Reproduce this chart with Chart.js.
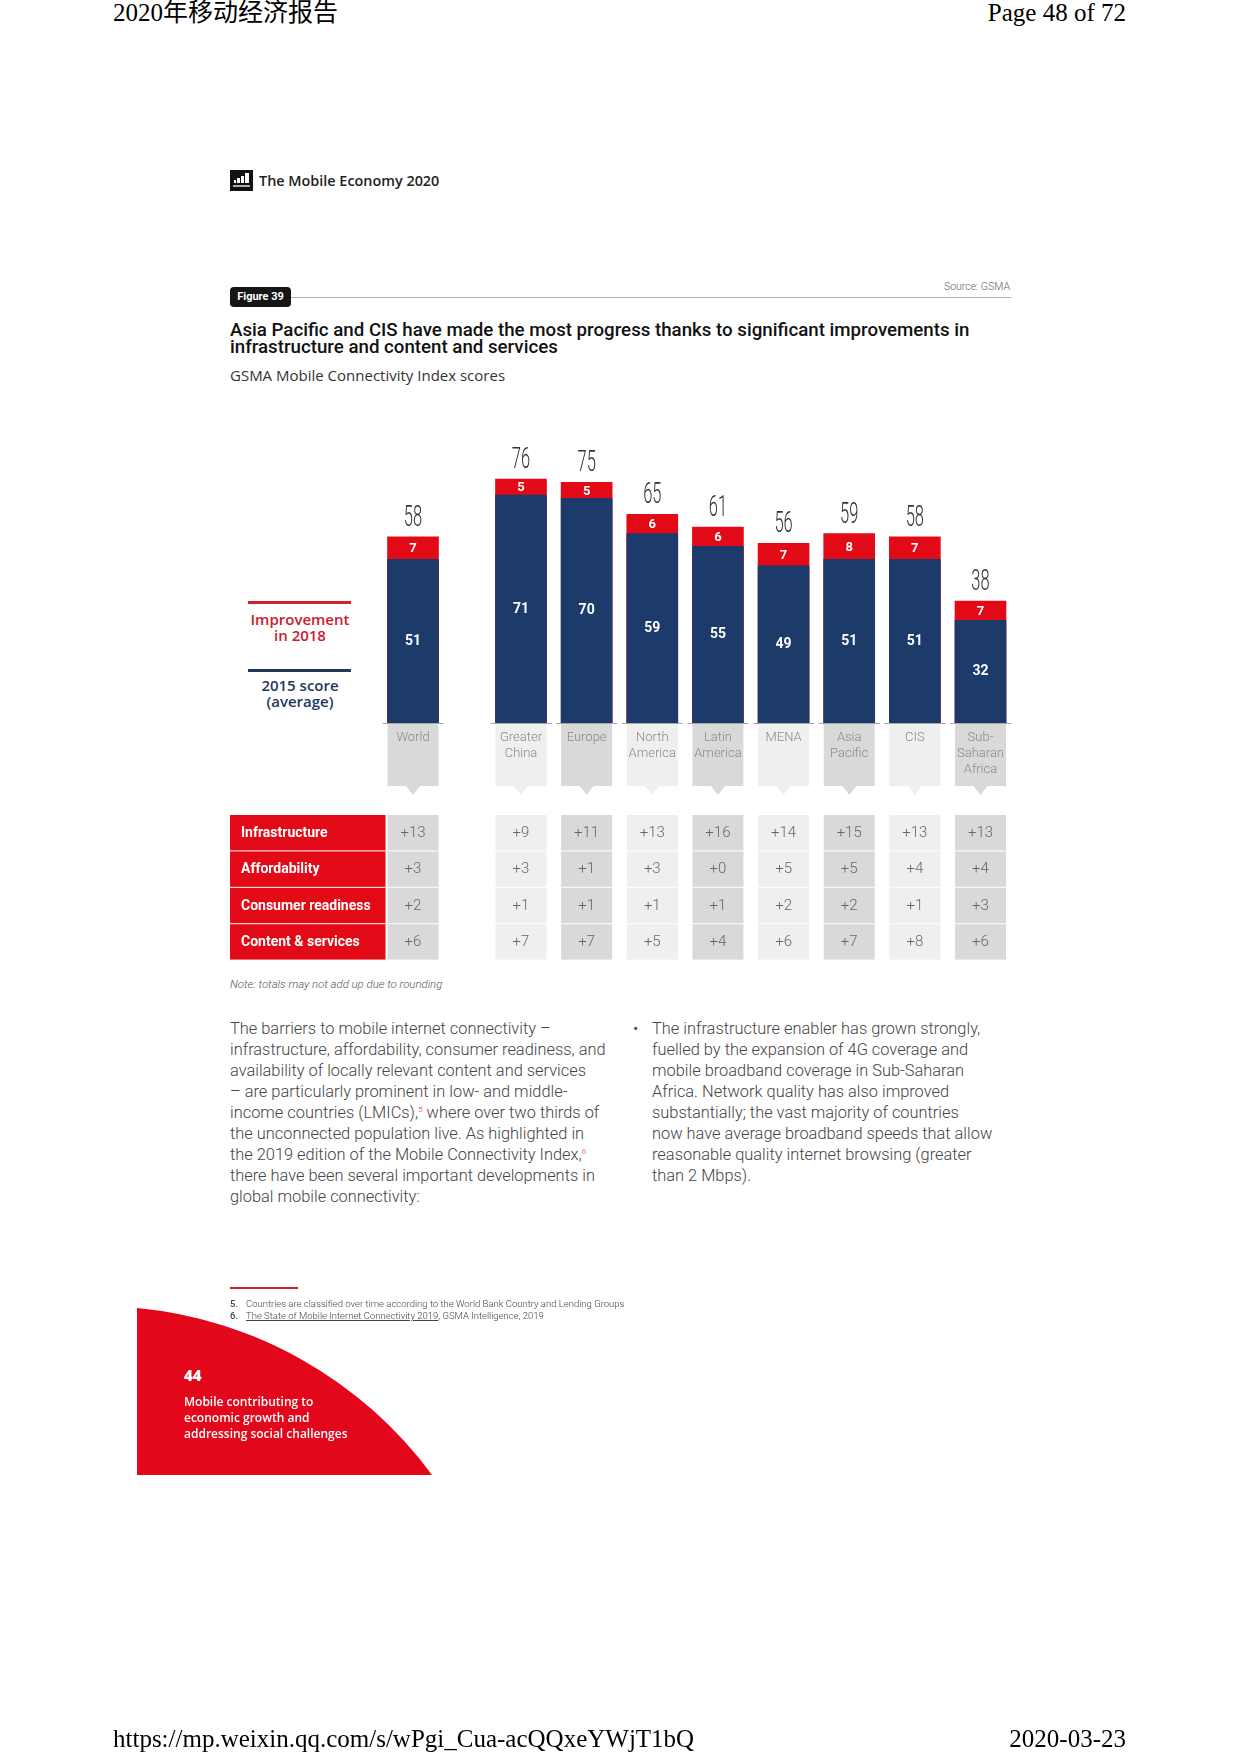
<!DOCTYPE html>
<html>
<head>
<meta charset="utf-8">
<script src="https://cdn.jsdelivr.net/npm/chart.js@4.4.1/dist/chart.umd.min.js"></script>
<style>
body{margin:0;width:1240px;height:1754px;position:relative;background:#fff;overflow:hidden;font-family:Roboto,sans-serif}
.abs{position:absolute;white-space:nowrap}
.serif{font-family:"Liberation Serif","Noto Sans CJK SC",serif;font-size:25px;line-height:26px;color:#000}
.body{font-family:Roboto,sans-serif;font-weight:300;font-size:16.4px;line-height:21px;color:#444}
.body sup{color:#d0202f;font-size:8px;vertical-align:6px;line-height:0}
.legend{font-family:"Open Sans",sans-serif;font-weight:600;font-size:15px;line-height:16px;text-align:center;width:120px}
.foot{font-weight:300;font-size:9.5px;line-height:12px;color:#444}
#chart{position:absolute;left:0;top:400px}
</style>
</head>
<body>
<div class="abs serif" style="left:113px;top:0px">2020年移动经济报告</div>
<div class="abs serif" style="right:114px;top:0px">Page 48 of 72</div>

<svg class="abs" style="left:230px;top:170px" width="23" height="21">
  <rect width="23" height="21" fill="#111"/>
  <rect x="4" y="10" width="2" height="3" fill="#fff"/>
  <rect x="7" y="8" width="3" height="5" fill="#fff"/>
  <rect x="11" y="6" width="3" height="7" fill="#fff"/>
  <rect x="15" y="3" width="4" height="10" fill="#fff"/>
  <rect x="3" y="15" width="17" height="2" fill="#aaa"/>
</svg>
<div class="abs" style="left:259px;top:171px;font-family:'Open Sans',sans-serif;font-weight:600;font-size:14.4px;line-height:19px;color:#222">The Mobile Economy 2020</div>

<div class="abs" style="right:230px;top:281px;font-weight:300;font-size:10.5px;line-height:12px;color:#666">Source: GSMA</div>
<div class="abs" style="left:291px;top:297px;width:720px;height:1px;background:#b0b0b0"></div>
<div class="abs" style="left:230px;top:287px;width:61px;height:20px;border-radius:4px;background:#151515;color:#fff;font-weight:700;font-size:11px;line-height:20px;text-align:center">Figure 39</div>

<div class="abs" style="left:230px;top:322px;font-weight:500;font-size:18.7px;line-height:17px;color:#111">Asia Pacific and CIS have made the most progress thanks to significant improvements in<br>infrastructure and content and services</div>
<div class="abs" style="left:230px;top:365px;font-family:'Open Sans',sans-serif;font-size:15px;line-height:20px;color:#333">GSMA Mobile Connectivity Index scores</div>

<div class="abs" style="left:248px;top:601px;width:103px;height:3px;background:#cf2233"></div>
<div class="abs legend" style="left:240px;top:611px;color:#c8202f">Improvement<br>in 2018</div>
<div class="abs" style="left:248px;top:669px;width:103px;height:3px;background:#23385f"></div>
<div class="abs legend" style="left:240px;top:677px;color:#23385f">2015 score<br>(average)</div>

<canvas id="chart" width="1240" height="570"></canvas>

<div class="abs" style="left:230px;top:977px;font-weight:300;font-style:italic;font-size:11.4px;line-height:15px;color:#555">Note: totals may not add up due to rounding</div>

<div class="abs body" style="left:230px;top:1018px">The barriers to mobile internet connectivity –<br>infrastructure, affordability, consumer readiness, and<br>availability of locally relevant content and services<br>– are particularly prominent in low- and middle-<br>income countries (LMICs),<sup>5</sup> where over two thirds of<br>the unconnected population live. As highlighted in<br>the 2019 edition of the Mobile Connectivity Index,<sup>6</sup><br>there have been several important developments in<br>global mobile connectivity:</div>
<div class="abs body" style="left:633px;top:1018px">•</div>
<div class="abs body" style="left:652px;top:1018px">The infrastructure enabler has grown strongly,<br>fuelled by the expansion of 4G coverage and<br>mobile broadband coverage in Sub-Saharan<br>Africa. Network quality has also improved<br>substantially; the vast majority of countries<br>now have average broadband speeds that allow<br>reasonable quality internet browsing (greater<br>than 2 Mbps).</div>

<svg class="abs" style="left:0;top:0" width="1240" height="1754">
  <path d="M137,1308 A414,414 0 0 1 432,1475 L137,1475 Z" fill="#e2071a"/>
</svg>
<div class="abs" style="left:230px;top:1287px;width:68px;height:2px;background:#c8202f"></div>
<div class="abs foot" style="left:230px;top:1298px"><b style="font-weight:500">5.</b></div>
<div class="abs foot" style="left:246px;top:1298px">Countries are classified over time according to the World Bank Country and Lending Groups</div>
<div class="abs foot" style="left:230px;top:1310px"><b style="font-weight:500">6.</b></div>
<div class="abs foot" style="left:246px;top:1310px"><u>The State of Mobile Internet Connectivity 2019</u>, GSMA Intelligence, 2019</div>

<div class="abs" style="left:184px;top:1365px;font-family:'Open Sans',sans-serif;font-weight:800;font-size:15px;line-height:20px;color:#fff">44</div>
<div class="abs" style="left:184px;top:1394px;font-family:'Open Sans',sans-serif;font-weight:600;font-size:12px;line-height:16px;color:#fff">Mobile contributing to<br>economic growth and<br>addressing social challenges</div>

<div class="abs serif" style="left:113px;top:1726px">https://mp.weixin.qq.com/s/wPgi_Cua-acQQxeYWjT1bQ</div>
<div class="abs serif" style="right:114px;top:1726px">2020-03-23</div>

<script>
// GSMA Mobile Connectivity Index scores
var categories = [["World"], ["Greater", "China"], ["Europe"], ["North", "America"], ["Latin", "America"], ["MENA"], ["Asia", "Pacific"], ["CIS"], ["Sub-", "Saharan", "Africa"]];
var score2015 = [51, 71, 70, 59, 55, 49, 51, 51, 32];
var improvement = [7, 5, 5, 6, 6, 7, 8, 7, 7];
var total2018 = [58, 76, 75, 65, 61, 56, 59, 58, 38];

// change by enabler
var enablers = ["Infrastructure", "Affordability", "Consumer readiness", "Content & services"];
var infrastructure = [13, 9, 11, 13, 16, 14, 15, 13, 13];
var affordability = [3, 3, 1, 3, 0, 5, 5, 4, 4];
var consumerReadiness = [2, 1, 1, 1, 1, 2, 2, 1, 3];
var contentServices = [6, 7, 7, 5, 4, 6, 7, 8, 6];
var enablerRows = [infrastructure, affordability, consumerReadiness, contentServices];

var BLUE = "#1c3a6a";
var RED = "#e30a17";
var BAR_W = 51;
var GAP = 0.645; // extra space after World

function xPos(i) {
	return i === 0 ? 0 : i + GAP;
}
function colFill(i) {
	return i % 2 === 0 ? "#d9d9d9" : "#efefef";
}

var baseData = [];
var totalData = [];
for (var i = 0; i < categories.length; i++) {
	baseData.push({x: xPos(i), y: score2015[i]});
	totalData.push({x: xPos(i), y: total2018[i]});
}

var figurePlugin = {
	id: "figure",
	afterDatasetsDraw: function (chart) {
		var ctx = chart.ctx;
		var xs = chart.scales.x;
		var ys = chart.scales.y;
		var base = ys.getPixelForValue(0);
		var rowTop = base + 92;
		var rowH = 36.4;

		ctx.save();
		ctx.textAlign = "center";
		ctx.textBaseline = "middle";

		for (var i = 0; i < categories.length; i++) {
			var cx = xs.getPixelForValue(xPos(i));
			var l = cx - BAR_W / 2;
			var top = ys.getPixelForValue(total2018[i]);
			var mid = ys.getPixelForValue(score2015[i]);

			// values inside the bars
			ctx.fillStyle = "#fff";
			ctx.font = "700 14px Roboto";
			ctx.fillText(String(score2015[i]), cx, (mid + base) / 2);
			ctx.font = "700 13px Roboto";
			ctx.fillText(String(improvement[i]), cx, (mid + top) / 2 + 1);

			// total above the bar
			ctx.save();
			ctx.fillStyle = "#333";
			ctx.font = "300 30px Roboto";
			ctx.textBaseline = "alphabetic";
			ctx.translate(cx, top - 11);
			ctx.scale(0.55, 1);
			ctx.fillText(String(total2018[i]), 0, 0);
			ctx.restore();

			// baseline and category tab
			ctx.fillStyle = "#a8a8a8";
			ctx.fillRect(l - 5, base, BAR_W + 10, 1);
			ctx.fillStyle = colFill(i);
			ctx.beginPath();
			ctx.moveTo(l, base + 1);
			ctx.lineTo(l + BAR_W, base + 1);
			ctx.lineTo(l + BAR_W, base + 63);
			ctx.lineTo(cx + 7, base + 63);
			ctx.lineTo(cx, base + 72);
			ctx.lineTo(cx - 7, base + 63);
			ctx.lineTo(l, base + 63);
			ctx.closePath();
			ctx.fill();

			ctx.fillStyle = "#8a8a8a";
			ctx.font = "300 13px Roboto";
			for (var j = 0; j < categories[i].length; j++) {
				ctx.fillText(categories[i][j], cx, base + 15 + j * 16);
			}

			// enabler table cells
			for (var r = 0; r < enablerRows.length; r++) {
				var y0 = rowTop + r * rowH;
				ctx.fillStyle = colFill(i);
				ctx.fillRect(l, y0, BAR_W, rowH - 1);
				ctx.fillStyle = "#666";
				ctx.font = "300 15px Roboto";
				ctx.fillText("+" + enablerRows[r][i], cx, y0 + rowH / 2);
			}
		}

		// enabler row headers
		var hl = chart.chartArea.left;
		var hr = xs.getPixelForValue(xPos(0)) - BAR_W / 2 - 2;
		ctx.textAlign = "left";
		for (var r2 = 0; r2 < enablers.length; r2++) {
			var y1 = rowTop + r2 * rowH;
			ctx.fillStyle = RED;
			ctx.fillRect(hl, y1, hr - hl, rowH - 1);
			ctx.fillStyle = "#fff";
			ctx.font = "700 14px Roboto";
			ctx.fillText(enablers[r2], hl + 11, y1 + rowH / 2);
		}
		ctx.restore();
	}
};

new Chart("chart", {
	type: "bar",
	data: {
		datasets: [{
			label: "2015 score (average)",
			data: baseData,
			backgroundColor: BLUE,
			order: 0
		}, {
			label: "Improvement in 2018",
			data: totalData,
			backgroundColor: RED,
			order: 1
		}]
	},
	options: {
		responsive: false,
		animation: false,
		devicePixelRatio: 1,
		layout: {padding: {left: 230, right: 228, top: 2, bottom: 247}},
		datasets: {bar: {barThickness: BAR_W, grouped: false, borderWidth: 0}},
		scales: {
			x: {type: "linear", min: -2.788, max: 9.125, offset: false, display: false, grid: {display: false}},
			y: {min: 0, max: 100, display: false, grid: {display: false}}
		},
		plugins: {
			legend: {display: false},
			tooltip: {enabled: false}
		}
	},
	plugins: [figurePlugin]
});
</script>
</body>
</html>
